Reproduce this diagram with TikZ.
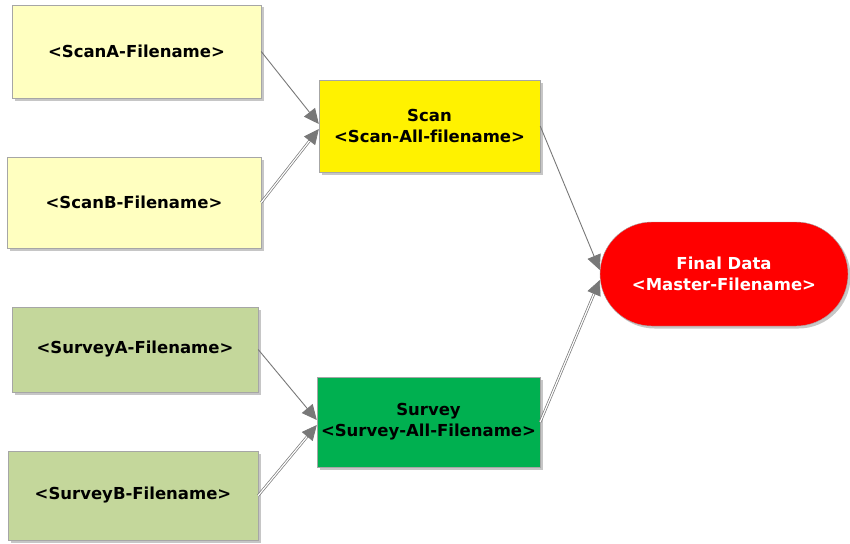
\documentclass[tikz,border=0pt]{standalone}
\usepackage{fontspec}
\setmainfont{DejaVu Sans}[Ligatures={NoCommon}]
\usetikzlibrary{arrows.meta,shadows}

\definecolor{paleyellow}{RGB}{255,255,192}
\definecolor{palegreen}{RGB}{196,215,155}
\definecolor{midgreen}{RGB}{0,176,80}
\definecolor{linkgray}{RGB}{120,120,120}

\begin{document}
\begin{tikzpicture}[x=1pt,y=-1pt,font=\bfseries\fontsize{16.5}{21}\selectfont,
	box/.style={rectangle,draw=gray!70,align=center,inner sep=0pt,
		drop shadow={shadow xshift=2.5pt,shadow yshift=-2.5pt,opacity=0.45}},
	link/.style={draw=linkgray,line width=0.9pt,-{Triangle[length=15pt,width=14pt]},shorten >=0pt},
	dlink/.style={link,double=white,double distance=1.2pt,line width=0.7pt}]

			\useasboundingbox (0,0) rectangle (850,543);

			\node (scanA)	at	(136.5,51.5) [box,fill=paleyellow,minimum width=249pt,minimum height=93pt] {<ScanA-Filename>};
			\node (scanB)	at	(134,202.5) [box,fill=paleyellow,minimum width=254pt,minimum height=91pt] {<ScanB-Filename>};
			\node (surveyA)	at	(135,349.5) [box,fill=palegreen,minimum width=246pt,minimum height=85pt] {<SurveyA-Filename>};
			\node (surveyB)	at	(133,495.5) [box,fill=palegreen,minimum width=250pt,minimum height=89pt] {<SurveyB-Filename>};
			\node (scan)	at	(429.5,126) [box,fill=yellow,minimum width=221pt,minimum height=92pt] {Scan\\<Scan-All-filename>};
			\node (survey)	at	(428.5,422) [box,fill=midgreen,minimum width=223pt,minimum height=90pt] {Survey\\<Survey-All-Filename>};
			\node (final)	at	(724,274) [box,fill=red,text=white,rounded corners=52pt,minimum width=248pt,minimum height=104pt] {Final Data\\<Master-Filename>};

			\draw [link] (scanA.east) -- ([yshift=2pt]scan.west);
			\draw [dlink] (scanB.east) -- ([yshift=-3pt]scan.west);
			\draw [link] (surveyA.east) -- ([yshift=2pt]survey.west);
			\draw [dlink] (surveyB.east) -- ([yshift=-3pt]survey.west);
			\draw [link] (scan.east) -- ([yshift=4pt]final.west);
			\draw [dlink] (survey.east) -- ([yshift=-6pt]final.west);

		\end{tikzpicture}
\end{document}
